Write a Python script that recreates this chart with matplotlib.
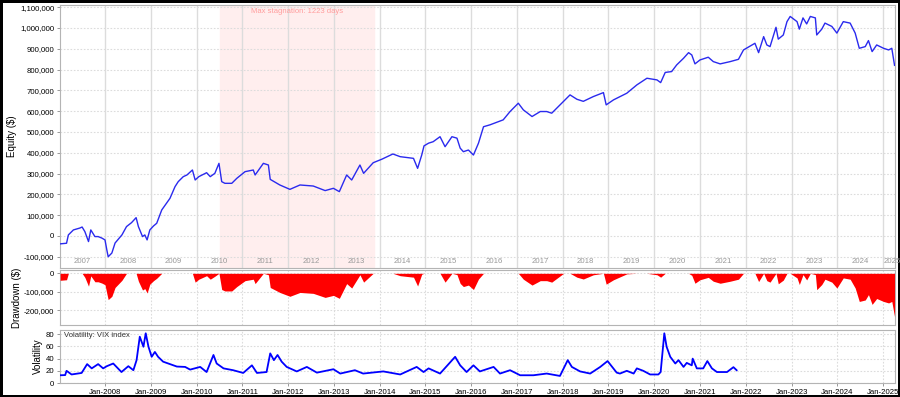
import numpy as np
import matplotlib
matplotlib.use('Agg')
import matplotlib.pyplot as plt
import matplotlib.transforms as mtransforms
from matplotlib.ticker import FuncFormatter, FixedLocator

plt.rcParams['font.family'] = ['Liberation Sans', 'DejaVu Sans']

# ── equity curve (decimal year, equity in k$) ──
eq_years = [2007.02, 2007.16, 2007.20, 2007.31, 2007.45, 2007.50, 2007.56, 2007.64, 2007.69, 2007.78,
            2007.85, 2007.93, 2008.00, 2008.04, 2008.07, 2008.15, 2008.22, 2008.37, 2008.47, 2008.58,
            2008.68, 2008.73, 2008.82, 2008.87, 2008.92, 2008.98, 2009.06, 2009.13, 2009.24, 2009.42,
            2009.53, 2009.60, 2009.71, 2009.79, 2009.91, 2009.97, 2010.05, 2010.22, 2010.30, 2010.40,
            2010.49, 2010.55, 2010.62, 2010.77, 2010.88, 2011.06, 2011.24, 2011.28, 2011.46, 2011.57,
            2011.61, 2011.82, 2012.04, 2012.26, 2012.55, 2012.81, 2012.99, 2013.12, 2013.28, 2013.39,
            2013.57, 2013.65, 2013.86, 2014.05, 2014.29, 2014.45, 2014.74, 2014.83, 2014.92, 2014.97,
            2015.07, 2015.17, 2015.32, 2015.43, 2015.58, 2015.69, 2015.76, 2015.83, 2015.94, 2016.05,
            2016.16, 2016.27, 2016.41, 2016.70, 2016.85, 2017.03, 2017.14, 2017.33, 2017.51, 2017.65,
            2017.76, 2018.02, 2018.16, 2018.31, 2018.45, 2018.67, 2018.89, 2018.95, 2019.11, 2019.40,
            2019.62, 2019.84, 2020.06, 2020.14, 2020.24, 2020.38, 2020.49, 2020.64, 2020.75, 2020.82,
            2020.89, 2021.00, 2021.18, 2021.29, 2021.44, 2021.66, 2021.84, 2021.95, 2022.10, 2022.20,
            2022.28, 2022.39, 2022.46, 2022.53, 2022.66, 2022.71, 2022.82, 2022.90, 2022.97, 2023.12,
            2023.17, 2023.25, 2023.33, 2023.41, 2023.52, 2023.55, 2023.66, 2023.73, 2023.88, 2023.99,
            2024.13, 2024.28, 2024.39, 2024.48, 2024.61, 2024.68, 2024.76, 2024.86, 2025.01, 2025.12,
            2025.19, 2025.25]
equity_k = [-38, -35, 5, 29, 38, 43, 21, -27, 29, -3,
            -3, -10, -19, -67, -100, -82, -34, 5, 45, 64,
            88, 45, -3, 5, -19, 29, 48, 61, 125, 181,
            237, 261, 285, 293, 317, 269, 285, 304, 285, 301,
            349, 261, 253, 253, 277, 309, 317, 293, 349, 341,
            272, 245, 224, 245, 240, 218, 229, 213, 293, 269,
            341, 301, 352, 369, 394, 381, 373, 325, 389, 433,
            446, 453, 477, 429, 477, 470, 422, 405, 413, 389,
            446, 525, 534, 558, 598, 638, 606, 574, 598, 598,
            590, 647, 678, 657, 647, 670, 689, 630, 654, 686,
            726, 758, 750, 737, 786, 790, 822, 854, 881, 870,
            827, 846, 859, 838, 827, 838, 849, 894, 913, 926,
            881, 958, 918, 910, 1003, 946, 966, 1030, 1055, 1030,
            994, 1048, 1019, 1055, 1048, 966, 994, 1023, 1007, 975,
            1030, 1023, 975, 902, 910, 939, 886, 918, 902, 894,
            902, 820]
start_equity_k = 0

# ── VIX index ──
vix_years = [2007.02, 2007.13, 2007.16, 2007.27, 2007.49, 2007.61, 2007.71, 2007.85, 2007.96, 2008.04,
             2008.18, 2008.36, 2008.51, 2008.62, 2008.69, 2008.76, 2008.84, 2008.89, 2008.95, 2009.02,
             2009.09, 2009.16, 2009.27, 2009.42, 2009.57, 2009.75, 2009.86, 2010.08, 2010.22, 2010.37,
             2010.44, 2010.59, 2010.80, 2011.02, 2011.21, 2011.32, 2011.53, 2011.61, 2011.69, 2011.77,
             2011.86, 2011.97, 2012.19, 2012.41, 2012.63, 2012.99, 2013.14, 2013.46, 2013.64, 2014.08,
             2014.45, 2014.81, 2014.96, 2015.07, 2015.32, 2015.65, 2015.76, 2015.90, 2016.05, 2016.19,
             2016.49, 2016.63, 2016.85, 2017.07, 2017.36, 2017.65, 2017.94, 2018.11, 2018.20, 2018.38,
             2018.60, 2018.82, 2018.98, 2019.18, 2019.25, 2019.40, 2019.55, 2019.62, 2019.76, 2019.91,
             2020.09, 2020.14, 2020.22, 2020.27, 2020.35, 2020.46, 2020.53, 2020.64, 2020.71, 2020.82,
             2020.84, 2020.93, 2021.07, 2021.16, 2021.26, 2021.37, 2021.59, 2021.73, 2021.80]
vix = [12.7, 13, 20, 14, 16.5, 31, 24, 31, 24, 27.6,
       32, 18, 27.6, 21, 37.5, 76, 59.5, 81.6, 59.5, 43,
       51, 43, 35, 31, 27, 26.4, 22, 26.4, 18, 46,
       32, 24, 21, 16.5, 29, 16.5, 18, 48.6, 37.5, 46,
       35, 26.4, 19, 26.4, 17, 22.6, 15.5, 21, 15.5, 19,
       14, 26.4, 18, 24, 15.5, 43, 29, 18, 29, 19,
       26.4, 15.5, 21, 12.7, 12.7, 15.5, 11.6, 37.5, 26.4, 19,
       15.5, 26.4, 36, 17, 15.5, 20, 15.5, 24, 20, 14,
       14, 18, 81.6, 59.5, 43, 32, 37.5, 26.4, 33, 29,
       40, 24, 24, 36, 24, 18, 18, 26, 21]

stag_start = 2010.52
stag_end = 2013.87
stag_days = 1223

year_grid = list(range(2008, 2026))
year_labels = list(range(2007, 2026))

# derived
t_eq = np.array(eq_years)
equity = np.array(equity_k) * 1000.0
peak = np.maximum.accumulate(np.concatenate([[start_equity_k * 1000.0], equity]))[1:]
drawdown = equity - peak

X0, X1 = 2007.017, 2025.26
GRID = '#dcdcdc'
FRAME = '#b4b4b4'
TICK_FS = 5.6

fig = plt.figure(figsize=(9.0, 3.97), dpi=100)
fig.patch.set_edgecolor('black')
fig.patch.set_linewidth(2.5)

ax1 = fig.add_axes([60/900, 1-268/397, 835/900, 263/397])
ax2 = fig.add_axes([60/900, 1-325/397, 835/900, 55/397])
ax3 = fig.add_axes([60/900, 1-383/397, 835/900, 53/397])

thousands = FuncFormatter(lambda v, p: f"{v:,.0f}")

for ax in (ax1, ax2, ax3):
    ax.set_xlim(X0, X1)
    for s in ax.spines.values():
        s.set_color(FRAME)
        s.set_linewidth(0.8)
    ax.tick_params(axis='both', labelsize=TICK_FS, length=2, width=0.6, color='#888888', pad=2)
    ax.xaxis.set_major_locator(FixedLocator(year_grid))

# ── equity panel ──
ax1.axvspan(stag_start, stag_end, color='#ffeeee', zorder=0)
ax1.text((stag_start + stag_end) / 2, 1080000, f"Max stagnation: {stag_days} days",
         color='#ff9c9c', fontsize=5.5, ha='center', va='center')
for y in year_grid:
    ax1.axvline(y, color=GRID, lw=1.0, zorder=1)
ax1.set_ylim(-154000, 1110000)
ax1.set_yticks(np.arange(-100000, 1100001, 100000))
ax1.yaxis.set_major_formatter(thousands)
ax1.yaxis.grid(True, color=GRID, ls=(0, (1.5, 1.5)), lw=0.8)
ax1.set_axisbelow(True)
ax1.tick_params(axis='x', bottom=False, labelbottom=False)
ax1.plot(t_eq, equity, color='#2a2aee', lw=1.0, zorder=3)
lbl_tr = mtransforms.blended_transform_factory(ax1.transData, ax1.transAxes)
for yr in year_labels:
    # centre each label on the visible part of its year
    xc = (max(yr, X0) + min(yr + 1, X1)) / 2 + (0.08 if yr == year_labels[-1] else 0)
    t = ax1.text(xc, 0.023, str(yr), transform=lbl_tr, ha='center', va='center',
                 fontsize=5.6, color='#999999')
    t.set_clip_path(ax1.patch)
ax1.set_ylabel('Equity ($)', fontsize=7)
ax1.yaxis.set_label_coords(-0.0515, 0.5)

# ── drawdown panel ──
ax2.fill_between(t_eq, drawdown, 0, color='#ff0000', lw=0, zorder=3)
ax2.set_ylim(-281000, 18000)
ax2.set_yticks([-200000, -100000, 0])
ax2.yaxis.set_major_formatter(thousands)
ax2.grid(True, color=GRID, ls=(0, (1.5, 1.5)), lw=0.8)
ax2.set_axisbelow(True)
ax2.tick_params(axis='x', bottom=False, labelbottom=False)
ax2.set_ylabel('Drawdown ($)', fontsize=7)
ax2.yaxis.set_label_coords(-0.0455, 0.5)

# ── volatility panel ──
ax3.plot(vix_years, vix, color='#0000ff', lw=1.3, zorder=3)
ax3.set_ylim(0, 87)
ax3.set_yticks([0, 20, 40, 60, 80])
ax3.grid(True, color=GRID, ls=(0, (1.5, 1.5)), lw=0.8)
ax3.set_axisbelow(True)
ax3.set_xticklabels([f"Jan-{y}" for y in year_grid])
ax3.text(0.005, 0.9, 'Volatility: VIX index', transform=ax3.transAxes,
         fontsize=5.5, color='#333333', va='center', ha='left')
ax3.set_ylabel('Volatility', fontsize=7)
ax3.yaxis.set_label_coords(-0.0204, 0.5)

fig.savefig('out.png', dpi=100, facecolor='white', edgecolor=fig.get_edgecolor())
